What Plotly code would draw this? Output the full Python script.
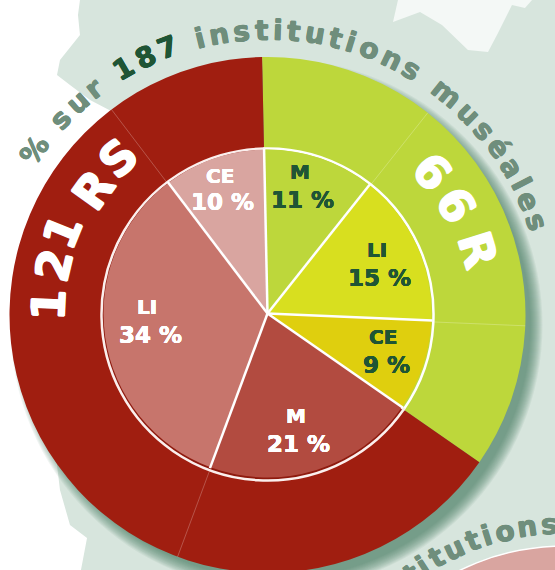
import math
import plotly.graph_objects as go

W, H = 555, 580

# data
categories = ["M", "LI", "CE", "M", "LI", "CE"]
r_values = [11, 15, 9]
rs_values = [21, 34, 10]
title_parts = [("% sur ", "#6F8E7C"), ("187", "#1F5535"), (" institutions muséales", "#6F8E7C")]
next_title = "titutions"

inner_values = r_values + rs_values
outer_values = [sum(r_values), sum(rs_values)]
inner_colors = ["#BDD73B", "#D8DF1F", "#DFCF0E", "#B24B40", "#C7756C", "#D9A5A0"]
outer_colors = ["#BDD73B", "#A01E10"]
ink = ["#1F5535"] * 3 + ["#FFFFFF"] * 3
ROT = -1.2
CX, CY, RO, RI = 267.5, 315, 258, 166
SX, SY, RS = 267.5, 313.5, 164
label_px = [(300, 172), (377, 250), (383, 337), (296, 416), (147, 307), (220, 176)]
value_px = [(302, 200), (379, 278), (386, 365), (298, 444), (150, 335), (222, 202)]


def px(x):
    return x / W


def py(y):
    return 1 - y / H


def path(points):
    return "M " + " L ".join(f"{px(x):.4f},{py(y):.4f}" for x, y in points) + " Z"


def circle(cx, cy, r, **kw):
    return dict(type="circle", xref="paper", yref="paper", x0=px(cx - r), x1=px(cx + r),
                y0=py(cy + r), y1=py(cy - r), **kw)


def domain(cx, cy, r):
    return dict(x=[px(cx - r), px(cx + r)], y=[py(cy + r), py(cy - r)])


fig = go.Figure()
fig.add_trace(go.Pie(values=outer_values, labels=["R", "RS"], sort=False, direction="clockwise",
                     rotation=ROT, textinfo="none", hoverinfo="skip", showlegend=False,
                     marker=dict(colors=outer_colors, line=dict(width=0)),
                     domain=domain(CX, CY, RO)))
# disc behind the slices: its rim shows as a pale arc under them
fig.add_trace(go.Pie(values=outer_values, labels=["Rb", "RSb"], sort=False, direction="clockwise",
                     rotation=ROT, textinfo="none", hoverinfo="skip", showlegend=False,
                     marker=dict(colors=["#BDD73B", "#8E1A0E"], line=dict(color=["white", "#FBEFED"], width=2.5)),
                     domain=domain(CX, 314.5, RI)))
fig.add_trace(go.Pie(values=inner_values, labels=[f"{c}{i}" for i, c in enumerate(categories)],
                     sort=False, direction="clockwise",
                     rotation=ROT, textinfo="none", hoverinfo="skip", showlegend=False,
                     marker=dict(colors=inner_colors, line=dict(width=0)),
                     domain=domain(SX, SY, RS)))

shapes = []
# map background
MAP = [(80, 0), (78, 15), (80, 35), (60, 60), (57, 75), (70, 85), (90, 100), (113, 112), (200, 300),
       (57, 465), (60, 490), (70, 525), (87, 538), (81, 570), (81, 580), (555, 580), (555, 0)]
shapes.append(dict(type="path", xref="paper", yref="paper", path=path(MAP), layer="below",
                   fillcolor="#D7E5DD", line=dict(width=0)))
BLOB = [(398, 0), (393, 22), (420, 12), (442, 25), (468, 50), (488, 52), (498, 33), (512, 5), (525, 8), (532, 0)]
shapes.append(dict(type="path", xref="paper", yref="paper", path=path(BLOB), layer="below",
                   fillcolor="#F4F8F6", line=dict(width=0)))
# soft shadow of the ring
for k in range(-4, 9):
    shapes.append(circle(CX + 9, CY + 10, RO + k, layer="below", fillcolor="#3F7462", opacity=0.075,
                         line=dict(width=0)))
# neighbouring disc
shapes.append(circle(565, 786, 240, layer="below", fillcolor="#D9A5A0", line=dict(color="white", width=1.5)))

# boundaries between slices
total = sum(inner_values)
cum = 0
for i, v in enumerate(inner_values):
    cum += v
    a = math.radians(ROT + 360 * cum / total)
    s, c = math.sin(a), math.cos(a)
    # white separators in the disc
    shapes.append(dict(type="line", xref="paper", yref="paper",
                       x0=px(SX), y0=py(SY), x1=px(SX + (RS + 1) * s), y1=py(SY - (RS + 1) * c),
                       line=dict(color="white", width=2.5)))
    # faint continuation through the ring
    if i not in (2, 5):
        shapes.append(dict(type="line", xref="paper", yref="paper",
                           x0=px(CX + RI * s), y0=py(CY - RI * c),
                           x1=px(CX + RO * s), y1=py(CY - RO * c),
                           line=dict(color="rgba(255,255,255,0.3)", width=0.8)))

ann = []
FONT = "DejaVu Sans"


def put(text, x, y, size, color, angle=0, thick=0.0):
    font = dict(family=FONT, size=size, color=color)
    if thick:
        font["shadow"] = ", ".join(f"{dx}px {dy}px 0 {color}" for dx, dy in
                                   [(thick, 0), (-thick, 0), (0, thick), (0, -thick)])
    ann.append(dict(text=f"<b>{text}</b>", x=px(x), y=py(y), xref="paper", yref="paper", showarrow=False,
                    xanchor="center", yanchor="middle", textangle=angle, font=font))


for c, v, col, lp, vp in zip(categories, inner_values, ink, label_px, value_px):
    put(c, lp[0], lp[1], 20, col, thick=0.3)
    put(f"{v} %", vp[0], vp[1], 23, col, thick=0.3)

EM = {"%": 1.0, " ": .35, "s": .6, "u": .71, "r": .49, "1": .7, "8": .7, "7": .7, "i": .34, "n": .71, "t": .48,
      "o": .69, "m": 1.04, "é": .68, "a": .67, "l": .34, "e": .68}


def arc(chars, colors, a0, a1, cx, cy, r, size):
    w = [EM[c] for c in chars]
    pos = [0.0]
    for i in range(1, len(chars)):
        pos.append(pos[-1] + (w[i - 1] + w[i]) / 2 + 0.14)
    for c, col, p in zip(chars, colors, pos):
        a = a0 + (a1 - a0) * p / pos[-1]
        t = math.radians(a)
        if c != " ":
            put(c, cx + r * math.sin(t), cy - r * math.cos(t), size, col, a, thick=0.5)


chars, cols = [], []
for s, col in title_parts:
    chars += list(s)
    cols += [col] * len(s)
arc(chars, cols, -54.8, 71, CX, CY, 285, 28)
arc(list(next_title), ["#6F8E7C"] * len(next_title), -36, -3.5, 565, 786, 262, 28)

# ring captions, set along the ring
for ch, ang, rad in zip("66R", [49, 59.7, 72.8], [218, 218, 220]):
    t = math.radians(ang)
    put(ch, CX + rad * math.sin(t), CY - rad * math.cos(t), 46, "white", ang, thick=0.8)
for ch, ang, rad in zip("121RS", [-87.4, -76.8, -68, -54.3, -43.5], [219, 219, 221, 214, 216]):
    t = math.radians(ang)
    put(ch, CX + rad * math.sin(t), CY - rad * math.cos(t), 46, "white", ang, thick=0.8)

fig.update_layout(width=W, height=H, autosize=False, margin=dict(l=0, r=0, t=0, b=0), paper_bgcolor="white",
                  shapes=shapes, annotations=ann)
fig.write_html("out.html", config=dict(displayModeBar=False),
               post_script="document.body.style.margin='0';document.body.style.overflow='hidden';"
                           "document.documentElement.style.overflow='hidden';")
